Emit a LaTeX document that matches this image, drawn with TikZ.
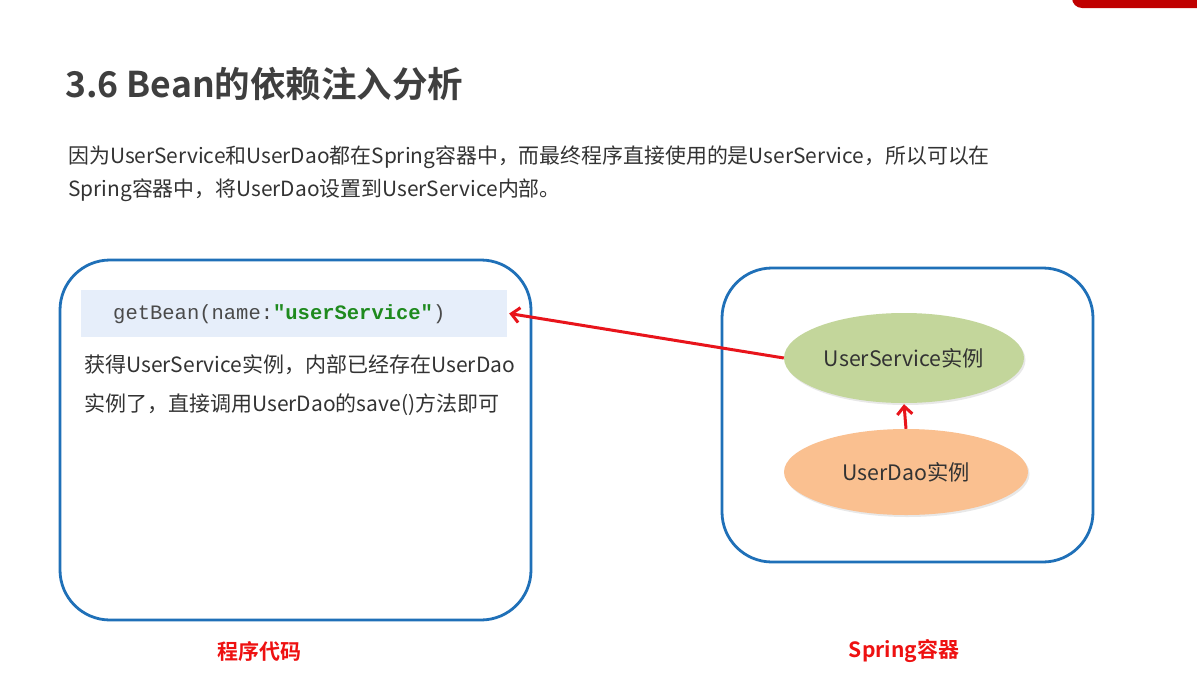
\documentclass[tikz,border=0pt]{standalone}
\usepackage{fontspec}
\setmainfont{Noto Sans CJK SC}
\newfontfamily\cjkbold{Noto Sans CJK SC Bold}
\setmonofont{Liberation Mono}
\usetikzlibrary{arrows.meta,shapes.geometric,shadows}
\definecolor{titlegray}{HTML}{3F3F3F}
\definecolor{textgray}{HTML}{333333}
\definecolor{boxblue}{HTML}{1F70B8}
\definecolor{codebg}{HTML}{E6EEFA}
\definecolor{codegray}{HTML}{4A4A4A}
\definecolor{codegreen}{HTML}{1E8A1E}
\definecolor{arrowred}{HTML}{E8141B}
\definecolor{labelred}{HTML}{EE1111}
\definecolor{ellgreen}{HTML}{C3D69B}
\definecolor{ellorange}{HTML}{FAC090}
\definecolor{topred}{HTML}{C00000}
\tikzset{
  container/.style={draw=boxblue,line width=2.8pt,rounded corners=50pt,inner sep=0pt},
  ellnode/.style={ellipse,inner sep=0pt,text=textgray,font=\fontsize{21.3}{25}\selectfont,
     drop shadow={shadow xshift=1.5pt,shadow yshift=-2pt,opacity=0.18}},
  redarrow/.style={draw=arrowred,line width=3pt,-{Straight Barb[length=8pt,width=15pt,line width=3pt]}},
  bodytext/.style={anchor=west,inner sep=0pt,text=textgray,font=\fontsize{21}{25}\selectfont},
  caption/.style={inner sep=0pt,text=labelred,font=\cjkbold\fontsize{21}{24}\selectfont}
}
\begin{document}
\begin{tikzpicture}[x=1pt,y=-1pt]
\useasboundingbox (0,0) rectangle (1197,683);
\fill[white] (0,0) rectangle (1197,683);
% top-right decoration
\fill[topred,rounded corners=10pt] (1072,-20) rectangle (1210,8);
% title
\node[anchor=west,inner sep=0pt,text=titlegray,font=\cjkbold\fontsize{35.5}{40}\selectfont] (title) at (65,84) {3.6 Bean的依赖注入分析};
% paragraph
\node[anchor=west,inner sep=0pt,text=textgray,font=\fontsize{20.9}{24}\selectfont] (p1) at (68,157) {因为UserService和UserDao都在Spring容器中，而最终程序直接使用的是UserService，所以可以在};
\node[anchor=west,inner sep=0pt,text=textgray,font=\fontsize{20.9}{24}\selectfont] (p2) at (68,190) {Spring容器中，将UserDao设置到UserService内部。};
% containers
\node[container,minimum width=471pt,minimum height=360pt] (left) at (295.5,440) {};
\node[container,minimum width=371pt,minimum height=294pt] (right) at (907.5,415) {};
% code box
\node[fill=codebg,inner sep=0pt,minimum width=426pt,minimum height=47pt] (code) at (294,313.5) {};
\node[anchor=west,inner sep=0pt,font=\ttfamily\fontsize{20.5}{24}\selectfont,text=codegray] (codetxt) at (113,314) {getBean(name:\textcolor{codegreen}{\bfseries"userService"})};
% left text
\node[bodytext] (l1) at (84,365) {获得UserService实例，内部已经存在UserDao};
\node[bodytext] (l2) at (84,405) {实例了，直接调用UserDao的save()方法即可};
% ellipses
\node[ellnode,fill=ellgreen,minimum width=240pt,minimum height=90pt] (svc) at (904,358) {UserService实例};
\node[ellnode,fill=ellorange,minimum width=244pt,minimum height=86pt] (dao) at (906,472) {UserDao实例};
% arrows
\draw[redarrow] (svc.west) -- ([xshift=2pt]code.east);
\draw[redarrow] (dao.north) -- ([yshift=-1pt]svc.south);
% captions
\node[caption] (c1) at (259,651) {程序代码};
\node[caption] (c2) at (904,651) {Spring容器};
\end{tikzpicture}
\end{document}
